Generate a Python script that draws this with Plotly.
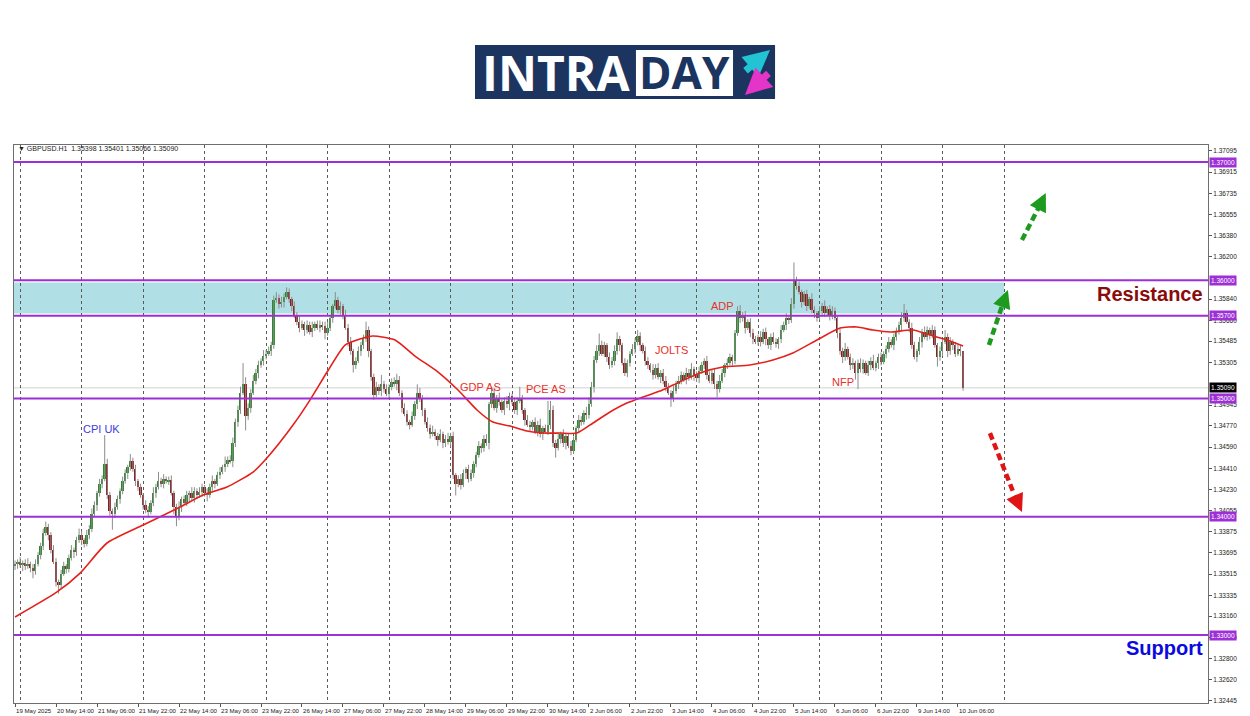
import plotly.graph_objects as go

# ---------------- DATA (prices in pips above 1.30000; price = 1.3 + v/10000) ----------------
first_open_pips = 358
close_pips = [
    360,362,359,361,358,360,357,354,360,368,375,386,391,385,372,362,345,342,352,358,
    356,365,372,370,380,385,380,377,385,390,402,410,420,428,432,445,418,405,402,408,
    415,422,430,437,442,447,440,430,425,418,410,406,404,412,420,425,430,428,432,430,
    431,420,408,400,408,415,412,418,420,416,422,418,421,425,420,418,425,430,428,435,
    438,442,445,448,447,462,480,490,505,512,485,492,505,515,522,528,532,536,538,540,
    545,583,585,580,582,586,590,584,578,570,565,560,563,558,562,556,560,563,560,562,
    561,555,560,568,578,583,575,578,570,560,548,540,528,532,540,545,550,558,540,518,
    503,510,506,512,508,504,510,514,512,516,505,492,487,480,478,485,495,505,500,490,
    480,475,470,472,468,465,470,462,466,463,468,435,428,432,427,437,440,432,437,445,
    452,460,458,466,462,495,505,492,500,497,490,498,495,502,497,490,498,500,490,482,
    478,476,480,472,478,470,475,472,478,490,462,458,466,470,462,468,460,456,465,475,
    482,480,488,486,495,510,533,540,545,538,545,535,528,532,540,550,545,530,522,530,
    538,542,548,553,545,540,532,528,524,520,526,518,522,515,510,505,500,506,512,515,
    520,516,522,518,525,520,517,523,528,532,520,515,522,512,508,515,522,528,530,535,
    532,555,574,568,570,560,565,555,550,548,552,548,556,550,545,552,548,546,550,558,
    562,568,566,580,600,595,590,582,588,578,584,575,572,568,574,578,572,576,570,574,
    568,555,540,535,542,535,528,530,522,530,525,530,522,528,532,526,530,535,531,538,
    542,548,545,552,556,562,568,572,565,560,545,535,540,548,556,552,558,554,558,545,
    535,540,548,552,540,548,545,538,542,539.8,509.0,
]
up_wick_pips = [
    3,2,4,2,3,5,2,3,4,2,3,4,5,3,2,4,3,2,3,4,
    2,3,4,2,3,5,3,2,4,3,5,3,2,4,3,24,4,3,2,4,
    3,2,4,3,2,6,3,4,2,3,2,4,3,2,5,3,8,3,4,2,
    3,4,2,3,5,2,3,4,2,5,3,2,4,3,2,4,3,5,2,3,
    4,2,6,3,4,5,3,4,5,18,6,4,3,5,3,4,2,5,3,4,
    3,4,5,3,4,3,4,3,2,4,3,5,3,2,4,3,5,2,3,4,
    3,4,5,3,2,7,3,4,2,5,3,4,2,3,4,3,4,7,3,2,
    3,4,2,8,3,4,2,3,4,5,3,2,4,3,2,4,3,7,4,3,
    2,4,3,5,2,3,4,2,3,5,3,4,2,3,4,3,2,4,3,2,
    3,4,2,3,4,2,5,4,3,5,2,3,4,3,2,4,3,10,3,2,
    4,3,2,4,3,5,2,3,20,8,4,3,5,2,4,3,2,4,3,2,
    4,3,2,5,6,4,3,5,10,4,3,2,4,3,5,6,3,2,4,3,
    2,4,3,5,3,2,4,3,2,5,3,4,2,3,4,3,2,5,3,4,
    3,2,4,3,5,2,3,4,3,2,4,3,2,4,3,5,3,2,4,3,
    2,3,4,5,3,4,2,3,4,3,2,5,3,4,2,3,4,3,2,4,
    3,4,2,5,15,3,4,2,3,4,2,5,3,2,4,3,5,2,3,4,
    3,2,4,3,5,2,3,4,2,3,4,3,2,4,3,5,2,3,4,2,
    3,4,2,3,4,3,5,8,3,2,4,3,2,4,3,5,3,2,4,3,
    2,4,3,6,3,4,2,3,4,3,0.3,
]
dn_wick_pips = [
    3,4,2,5,3,2,4,6,3,2,4,3,2,5,3,2,4,7,3,2,
    4,3,2,5,3,2,4,3,2,4,3,2,5,3,4,2,3,4,13,3,
    2,4,3,2,5,3,2,4,3,2,4,3,5,2,3,4,2,3,4,2,
    3,2,6,8,3,4,2,3,5,2,4,3,2,4,3,5,2,3,4,2,
    3,2,4,3,2,5,3,4,3,2,12,3,4,2,3,5,2,4,3,2,
    4,3,2,4,3,5,2,3,4,2,3,4,2,5,3,2,4,3,2,4,
    3,5,2,3,4,2,3,4,3,2,4,3,6,3,2,4,3,2,5,3,
    4,2,3,4,3,2,4,3,2,5,3,4,2,3,4,2,3,4,3,5,
    2,3,4,2,3,5,2,4,3,2,4,3,10,3,4,2,5,3,2,4,
    3,2,4,3,2,5,3,2,4,3,2,4,3,5,2,3,4,2,3,5,
    2,4,3,2,4,3,5,2,3,4,3,8,2,4,3,5,2,4,3,2,
    4,3,2,4,3,2,5,3,4,2,3,4,3,2,4,3,5,2,3,4,
    3,2,4,3,5,2,4,3,2,4,3,2,5,3,4,2,7,3,2,4,
    3,2,4,3,2,5,3,4,2,3,4,2,3,4,7,3,2,4,3,2,
    4,3,2,4,3,5,2,3,4,2,3,4,2,5,3,4,2,3,4,3,
    2,4,3,2,4,3,2,5,3,4,2,3,4,3,2,5,3,2,4,3,
    2,4,3,5,3,2,4,3,6,14,3,4,2,3,4,2,3,5,3,2,
    4,3,2,4,3,2,5,3,2,4,3,2,4,3,5,2,3,4,3,2,
    8,3,4,2,5,3,4,3,2,4,2.4,
]
ma_bar = [0, 16.4, 25.4, 35.9, 50, 64.4, 73.4, 82.7, 92.9, 98.3, 108.5, 115.1, 121.8, 128.8,
          134.6, 139.7, 148.3, 156.1, 165.1, 172.9, 180.3, 186.5, 193.2, 199.8, 206, 212.7,
          219.3, 225.6, 232.2, 238.8, 245.1, 251.7, 256.8, 267.3, 276.3, 286.8, 295.8, 303.6,
          313, 322, 328.6, 334.8, 341.5, 350.4, 357.1, 363.7, 370]
ma_pips = [315.2, 336.4, 352.4, 377.8, 393, 408.2, 418.4, 425.2, 437.8, 449.7, 477.6, 498.7,
           522.4, 545.2, 550.3, 552.9, 549.5, 535.9, 522.4, 507.2, 490.3, 480.1, 476.7, 472.5,
           470.8, 470.8, 470.8, 479.3, 488.6, 496.2, 501.3, 506.3, 511.4, 521.6, 526.6, 528.3,
           532.6, 538.5, 549.5, 559.6, 560.5, 557.9, 556.2, 557.9, 553.7, 549.5, 544.4]

xlabel_bars = [0, 16, 32, 48, 64, 80, 96, 112, 128, 144, 160, 176, 192, 208, 224, 240,
               256, 272, 288, 304, 320, 336, 352, 368]
xlabel_text = ["19 May 2025", "20 May 14:00", "21 May 06:00", "21 May 22:00", "22 May 14:00",
               "23 May 06:00", "23 May 22:00", "26 May 14:00", "27 May 06:00", "27 May 22:00",
               "28 May 14:00", "29 May 06:00", "29 May 22:00", "30 May 14:00", "2 Jun 06:00",
               "2 Jun 22:00", "3 Jun 14:00", "4 Jun 06:00", "4 Jun 22:00", "5 Jun 14:00",
               "6 Jun 06:00", "6 Jun 22:00", "9 Jun 14:00", "10 Jun 06:00"]
day_grid_bars = [2, 26, 50, 74, 98, 122, 146, 170, 194, 218, 242, 266, 290, 314, 338, 362, 386]
ytick_vals = [1.37095, 1.36915, 1.36735, 1.36555, 1.36380, 1.36200, 1.35840, 1.35660,
              1.35485, 1.35305, 1.34945, 1.34770, 1.34590, 1.34410, 1.34230, 1.34055,
              1.33875, 1.33695, 1.33515, 1.33335, 1.33160, 1.32980, 1.32800, 1.32620, 1.32445]
level_prices = [1.37000, 1.36000, 1.35700, 1.35000, 1.34000, 1.33000]
last_price = 1.35090
header_text = "GBPUSD.H1  1.35398 1.35401 1.35066 1.35090"
event_labels = ["CPI UK", "GDP AS", "PCE AS", "JOLTS", "ADP", "NFP"]
event_bars = [33.6, 181.5, 207.2, 256.4, 276.3, 323.1]
event_pips = [474.2, 509.7, 508.0, 541.0, 578.2, 514.0]
event_colors = ["#3D3DDB", "#E8322A", "#E8322A", "#E8322A", "#E8322A", "#E8322A"]


def P(v):
    return 1.3 + v / 10000.0


# ---------------- build OHLC ----------------
n = len(close_pips)
idx = list(range(n))
opens = [first_open_pips] + close_pips[:-1]
body_lo, body_h, body_col, wx, wy = [], [], [], [], []
for i in idx:
    o, c = opens[i], close_pips[i]
    lo_b, hi_b = min(o, c), max(o, c)
    body_lo.append(P(lo_b))
    body_h.append(max(hi_b - lo_b, 0.4) / 10000.0)
    body_col.append("#2C8A2C" if c >= o else "#8E1B1B")
    wx += [i, i, None]
    wy += [P(lo_b - dn_wick_pips[i]), P(hi_b + up_wick_pips[i]), None]

PURPLE = "#9D2FD6"
FONT = "Liberation Sans"

fig = go.Figure()
fig.add_trace(go.Scatter(x=wx, y=wy, mode="lines", line=dict(color="#8C8C8C", width=1),
                         hoverinfo="skip"))
fig.add_trace(go.Bar(x=idx, y=body_h, base=body_lo, width=0.72,
                     marker=dict(color=body_col, line=dict(width=0)), hoverinfo="skip"))
fig.add_trace(go.Scatter(x=ma_bar, y=[P(v) for v in ma_pips], mode="lines",
                         line=dict(color="#E5201B", width=1.6, shape="spline", smoothing=0.6),
                         hoverinfo="skip"))

shapes = []
# resistance zone
shapes.append(dict(type="rect", xref="x", yref="y", x0=-2, x1=386, y0=1.35718, y1=1.35982,
                   fillcolor="#B0DFE5", line=dict(width=0), layer="below"))
# bid line
shapes.append(dict(type="line", xref="paper", yref="y", x0=0, x1=1, y0=last_price, y1=last_price,
                   line=dict(color="#D2D2D2", width=1), layer="below"))
for lv in level_prices:
    shapes.append(dict(type="line", xref="paper", yref="y", x0=0, x1=1, y0=lv, y1=lv,
                       line=dict(color=PURPLE, width=2)))

# dashed direction arrows (bar index, price)
arrows = [
    ((393.0, 1.36340), (400.0, 1.36636), (402.3, 1.36738), "#1E9B1E"),
    ((380.1, 1.35452), (385.2, 1.35782), (387.5, 1.35918), "#1E9B1E"),
    ((380.5, 1.34708), (389.9, 1.34192), (393.0, 1.34040), "#E01414"),
]
annotations = []
for (s, e, h, col) in arrows:
    shapes.append(dict(type="line", xref="x", yref="y", x0=s[0], y0=s[1], x1=e[0], y1=e[1],
                       line=dict(color=col, width=4.5, dash="7px,4px")))
    annotations.append(dict(x=h[0], y=h[1], xref="x", yref="y", ax=e[0], ay=e[1],
                            axref="x", ayref="y", text="", showarrow=True, arrowhead=2,
                            arrowsize=0.8, arrowwidth=4.5, arrowcolor=col, standoff=0,
                            startstandoff=0))

# logo
shapes.append(dict(type="rect", xref="paper", yref="paper", x0=0.3861, x1=0.6374,
                   y0=1.0824, y1=1.1792, fillcolor="#1C3560", line=dict(width=0)))
shapes.append(dict(type="rect", xref="paper", yref="paper", x0=0.5209, x1=0.6022,
                   y0=1.0878, y1=1.1703, fillcolor="white", line=dict(width=0)))
annotations.append(dict(x=0.4539, y=1.1308, xref="paper", yref="paper", text="<b>INTRA</b>",
                        showarrow=False, font=dict(family="Open Sans", size=48, color="white"),
                        xanchor="center", yanchor="middle"))
annotations.append(dict(x=0.5615, y=1.1308, xref="paper", yref="paper", text="<b>DAY</b>",
                        showarrow=False, font=dict(family="Open Sans", size=44, color="#1C3560"),
                        xanchor="center", yanchor="middle"))
annotations.append(dict(x=(770 - 14) / 1194, y=(703 - 50) / 558, xref="paper", yref="paper",
                        ax=-26, ay=22, axref="pixel", ayref="pixel", text="", showarrow=True,
                        arrowhead=2, arrowsize=0.75, arrowwidth=7, arrowcolor="#22C3D3",
                        standoff=0))
annotations.append(dict(x=(745 - 14) / 1194, y=(703 - 95) / 558, xref="paper", yref="paper",
                        ax=25, ay=-23, axref="pixel", ayref="pixel", text="", showarrow=True,
                        arrowhead=2, arrowsize=0.75, arrowwidth=7, arrowcolor="#E535C8",
                        standoff=0))

# header
annotations.append(dict(x=0.002, y=0.993, xref="paper", yref="paper",
                        text="▼ " + header_text, showarrow=False,
                        font=dict(family=FONT, size=7, color="#222"),
                        xanchor="left", yanchor="middle"))

# x labels (left-aligned at ticks, like MT4)
for b, t in zip(xlabel_bars, xlabel_text):
    annotations.append(dict(x=b, y=-0.004, xref="x", yref="paper", text=t, showarrow=False,
                            font=dict(family=FONT, size=6.1, color="#222"),
                            xanchor="left", yanchor="top", xshift=-1))

# price boxes
for lv in level_prices:
    annotations.append(dict(x=1, y=lv, xref="paper", yref="y", text=f"{lv:.5f}",
                            showarrow=False, font=dict(family=FONT, size=6.5, color="white"),
                            bgcolor=PURPLE, borderpad=1, xanchor="left", yanchor="middle",
                            xshift=1))
annotations.append(dict(x=1, y=last_price, xref="paper", yref="y", text=f"{last_price:.5f}",
                        showarrow=False, font=dict(family=FONT, size=6.5, color="white"),
                        bgcolor="#000000", borderpad=1, xanchor="left", yanchor="middle",
                        xshift=1))

# events
for lab, b, v, col in zip(event_labels, event_bars, event_pips, event_colors):
    annotations.append(dict(x=b, y=P(v), xref="x", yref="y", text=lab, showarrow=False,
                            font=dict(family=FONT, size=11, color=col),
                            xanchor="center", yanchor="middle"))

# Resistance / Support
annotations.append(dict(x=0.9975, y=1.35880, xref="paper", yref="y", text="<b>Resistance</b>",
                        showarrow=False, font=dict(family=FONT, size=20, color="#8B0A0A"),
                        xanchor="right", yanchor="middle"))
annotations.append(dict(x=0.9975, y=1.32890, xref="paper", yref="y", text="<b>Support</b>",
                        showarrow=False, font=dict(family=FONT, size=20, color="#0A0AE0"),
                        xanchor="right", yanchor="middle"))

# page body has an 8px default margin: size the figure so the plot area lands at the same pixels
fig.update_layout(
    width=1242, height=708,
    margin=dict(l=6, r=42, t=137, b=13),
    plot_bgcolor="white", paper_bgcolor="white",
    showlegend=False, bargap=0,
    shapes=shapes, annotations=annotations,
    xaxis=dict(range=[-0.4, 465.6], showgrid=False, zeroline=False,
               tickvals=xlabel_bars, ticktext=[""] * len(xlabel_bars),
               ticks="outside", ticklen=3, tickcolor="#555",
               showline=True, mirror=True, linecolor="#6E6E6E", linewidth=1,
               minor=dict(tickvals=day_grid_bars, showgrid=True, griddash="dot",
                          gridcolor="#5A5A5A", gridwidth=1, ticks="")),
    yaxis=dict(range=[1.32425, 1.37144], side="right", showgrid=False, zeroline=False,
               tickvals=ytick_vals, ticktext=[f"{v:.5f}" for v in ytick_vals],
               tickfont=dict(family=FONT, size=6.5, color="#222"),
               ticks="outside", ticklen=3, tickcolor="#555",
               showline=True, mirror=True, linecolor="#6E6E6E", linewidth=1),
)

fig.write_html("out.html")
